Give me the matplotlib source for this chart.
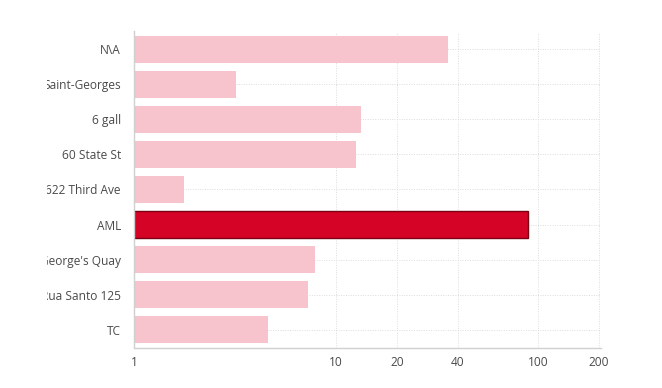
import matplotlib
matplotlib.use("Agg")
import matplotlib.pyplot as plt
from matplotlib.transforms import Bbox, TransformedBbox

categories = ["N\\A", "Saint-Georges", "6 gall", "60 State St", "622 Third Ave",
              "AML", "George's Quay", "Rua Santo 125", "TC"]
values = [35.8, 3.2, 13.3, 12.6, 1.77, 89.2, 7.87, 7.27, 4.6]
highlight = "AML"
xticks = [1, 10, 20, 40, 100, 200]

plt.rcParams['font.family'] = ['Open Sans', 'DejaVu Sans']

W, H = 662, 388
fig = plt.figure(figsize=(W / 100, H / 100), dpi=100)
left, right, top, bottom = 134, 601, 31.5, 347.5
ax = fig.add_axes([left / W, 1 - bottom / H, (right - left) / W, (bottom - top) / H])

ypos = list(range(len(categories)))
colors = ["#D50325" if c == highlight else "#F7C3CC" for c in categories]
edges = ["#7A0012" if c == highlight else "none" for c in categories]
ax.barh(ypos, values, left=0, height=0.77, color=colors, edgecolor=edges,
        linewidth=1.0, zorder=2)

ax.set_xscale("log")
ax.set_xlim(1, 205)
ax.set_ylim(len(categories) - 0.5, -0.5)
ax.set_yticks(ypos)
ax.set_yticklabels(categories)
ax.set_xticks(xticks)
ax.set_xticklabels([str(t) for t in xticks])
ax.xaxis.set_minor_locator(matplotlib.ticker.NullLocator())
ax.tick_params(axis="both", length=0, labelsize=8.6, colors="#4a4a4a")
ax.tick_params(axis="y", pad=9.5)
ax.tick_params(axis="x", pad=6)

ax.grid(True, axis="both", linestyle=(0, (1, 1.5)), color="#dcdcdc", linewidth=0.7, zorder=0)
ax.set_axisbelow(True)
for s in ["top", "right"]:
    ax.spines[s].set_visible(False)
for s in ["left", "bottom"]:
    ax.spines[s].set_color("#d0d0d0")
    ax.spines[s].set_linewidth(1.0)

clip = TransformedBbox(Bbox([[47 / W, 0], [1, 1]]), fig.transFigure)
for lab in ax.get_yticklabels():
    lab.set_clip_on(True)
    lab.set_clip_box(clip)

fig.savefig("out.png", dpi=100)
